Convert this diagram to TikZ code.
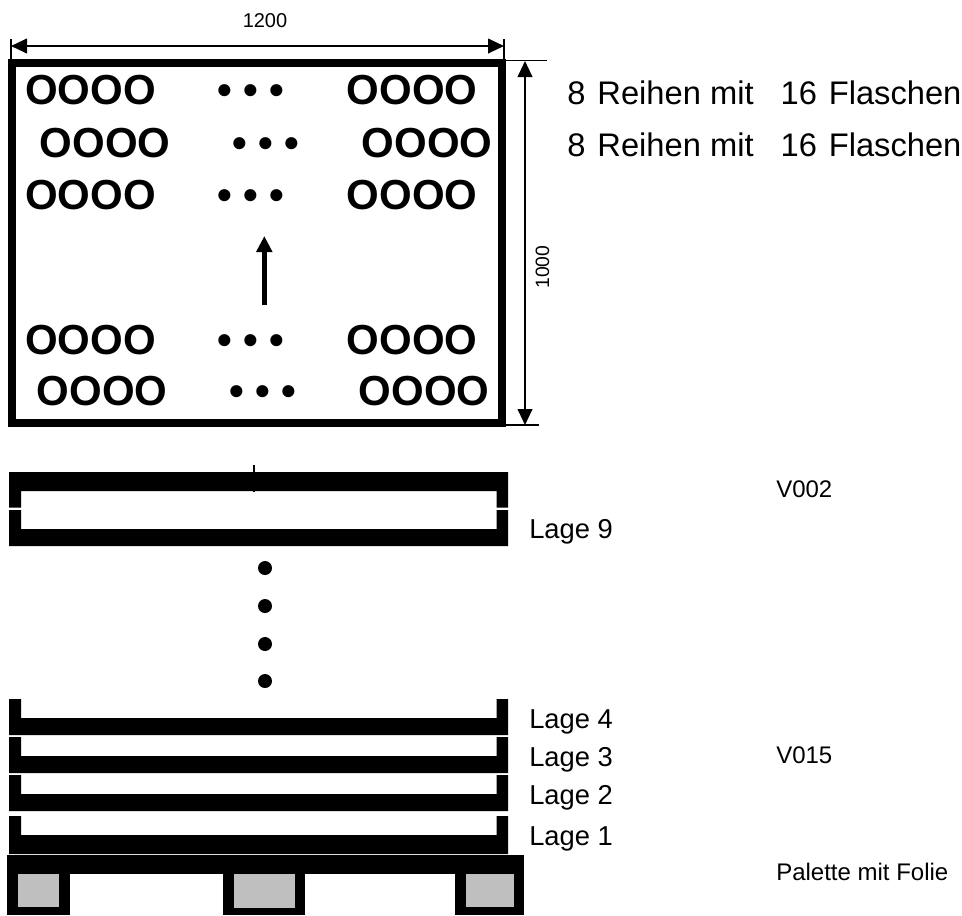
\documentclass[tikz,border=0pt]{standalone}
\usepackage{fontspec}
\setmainfont{Liberation Sans}
\usetikzlibrary{arrows.meta}
\tikzset{
  row/.style={inner sep=0pt,anchor=base,font=\fontsize{31.5}{36}\selectfont\bfseries},
  big/.style={inner sep=0pt,anchor=base west,font=\fontsize{20.5}{24}\selectfont},
  huge/.style={inner sep=0pt,anchor=base west,font=\fontsize{24.5}{28}\selectfont},
  small/.style={inner sep=0pt,anchor=base west,font=\fontsize{18}{22}\selectfont},
  dim/.style={line width=1.5pt,{Triangle[length=12pt,width=11pt]}-{Triangle[length=12pt,width=11pt]}},
  tick/.style={line width=0.8pt}
}
\begin{document}
\begin{tikzpicture}[x=0.75pt,y=-0.75pt]
\useasboundingbox (0,0) rectangle (962,915);
% crate from above
\draw[line width=5.6pt] (12,63) rectangle (502,423);
\node[row] (a1) at (90.5,104.5) {OOOO};
\node[row] (b1) at (251,104.5) {• • •};
\node[row] (c1) at (412,104.5) {OOOO};
\node[row] (a2) at (105,157) {OOOO};
\node[row] (b2) at (266,157) {• • •};
\node[row] (c2) at (427,157) {OOOO};
\node[row] (a3) at (90.5,209.5) {OOOO};
\node[row] (b3) at (251,209.5) {• • •};
\node[row] (c3) at (412,209.5) {OOOO};
\node[row] (a4) at (90.5,354) {OOOO};
\node[row] (b4) at (251,354) {• • •};
\node[row] (c4) at (412,354) {OOOO};
\node[row] (a5) at (102,405.5) {OOOO};
\node[row] (b5) at (263,405.5) {• • •};
\node[row] (c5) at (424,405.5) {OOOO};
\coordinate (up1) at (264.3,305);
\coordinate (up2) at (264.3,236);
\draw[line width=4pt,-{Triangle[length=12pt,width=11.5pt]}] (up1) -- (up2);
% dimensions
\coordinate (w1) at (11,46);
\coordinate (w2) at (504,46);
\coordinate (h1) at (525,61);
\coordinate (h2) at (525,425);
\draw[dim] (w1) -- (w2);
\draw[dim] (h1) -- (h2);
\draw[tick] (11,39) -- (11,60);
\draw[tick] (504,39) -- (504,60);
\draw[tick] (506,60.5) -- (547,60.5);
\draw[tick] (506,425) -- (539,425);
\node[inner sep=0pt,font=\fontsize{15}{18}\selectfont] (width) at (265,21) {1200};
\node[inner sep=0pt,rotate=90,font=\fontsize{14.5}{18}\selectfont] (height) at (542.5,267) {1000};
\node[huge] (reihe1) at (567,104) {8\hspace{0.37em}Reihen mit\hspace{0.83em}16\hspace{0.36em}Flaschen};
\node[huge] (reihe2) at (567,156) {8\hspace{0.37em}Reihen mit\hspace{0.83em}16\hspace{0.36em}Flaschen};
% layers from the side
\fill (9,472) -- (508,472) -- (508,507.7) -- (496.5,507.7) -- (496.5,491) -- (21,491) -- (21,507.7) -- (9,507.7) -- cycle;
\fill (9,546) -- (508,546) -- (508,510) -- (496.5,510) -- (496.5,529) -- (21,529) -- (21,510) -- (9,510) -- cycle;
\draw[tick] (254,465) -- (254,492);
\fill (9,735) -- (508,735) -- (508,699) -- (496.5,699) -- (496.5,718) -- (21,718) -- (21,699) -- (9,699) -- cycle;
\fill (9,773) -- (508,773) -- (508,737) -- (496.5,737) -- (496.5,756) -- (21,756) -- (21,737) -- (9,737) -- cycle;
\fill (9,811) -- (508,811) -- (508,775) -- (496.5,775) -- (496.5,794) -- (21,794) -- (21,775) -- (9,775) -- cycle;
\fill (9,854) -- (508,854) -- (508,816) -- (496.5,816) -- (496.5,835) -- (21,835) -- (21,816) -- (9,816) -- cycle;
\fill (265,568) circle (7);
\fill (265,606) circle (7);
\fill (265,644) circle (7);
\fill (265,681) circle (7);
% pallet
\fill (7,855) rectangle (524,874);
\fill (7,874) rectangle (70,915);
\fill (223,874) rectangle (305,915);
\fill (455,874) rectangle (524,915);
\fill[gray!50!white] (17.5,874) rectangle (59,906.5);
\fill[gray!50!white] (234,874) rectangle (295,908);
\fill[gray!50!white] (466,874) rectangle (513.5,906.5);
\node[big] (lage9) at (529,538) {Lage 9};
\node[big] (lage4) at (529,728) {Lage 4};
\node[big] (lage3) at (529,766) {Lage 3};
\node[big] (lage2) at (529,804) {Lage 2};
\node[big] (lage1) at (529,845) {Lage 1};
\node[small] (v002) at (776,497) {V002};
\node[small] (v015) at (776,763) {V015};
\node[small] (folie) at (776,880) {Palette mit Folie};
\end{tikzpicture}
\end{document}
